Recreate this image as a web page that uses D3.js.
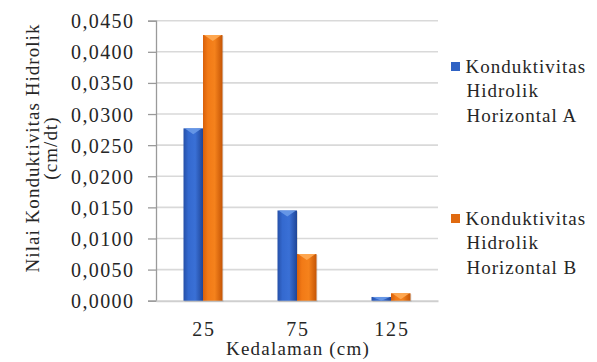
<!DOCTYPE html>
<html><head><meta charset="utf-8">
<script src="https://cdn.jsdelivr.net/npm/d3@7"></script>
<style>body{margin:0;background:#fff;}</style>
</head><body><svg id="c" width="597" height="362"></svg>
<script>
const categories = ["25", "75", "125"];
const seriesNames = ["Konduktivitas Hidrolik Horizontal A", "Konduktivitas Hidrolik Horizontal B"];
const seriesA = [0.0277, 0.0145, 0.0006];
const seriesB = [0.0427, 0.0075, 0.0012];
const yTicks = [0, 0.005, 0.010, 0.015, 0.020, 0.025, 0.030, 0.035, 0.040, 0.045];
const legendLines = [["Konduktivitas", "Hidrolik", "Horizontal A"], ["Konduktivitas", "Hidrolik", "Horizontal B"]];
const yTitle = ["Nilai Konduktivitas Hidrolik", "(cm/dt)"];
const xTitle = "Kedalaman (cm)";

const FF = "Liberation Serif";
const TC = "#262626";
const svg = d3.select("#c");
const L = 156, R = 438, T = 20.7, B = 300.7;
const FS = 19, FN = 20;
const x = d3.scaleBand().domain(categories).range([L, R]).paddingInner(0.585).paddingOuter(0.2925);
const xs = d3.scaleBand().domain([0, 1]).range([0, x.bandwidth()]);
const y = d3.scaleLinear().domain([0, 0.045]).range([B, T]);

const defs = svg.append("defs");
function grad(id, stops) {
  const g = defs.append("linearGradient").attr("id", id).attr("x1", 0).attr("x2", 1).attr("y1", 0).attr("y2", 0);
  stops.forEach(s => g.append("stop").attr("offset", s[0]).attr("stop-color", s[1]));
}
grad("gA", [[0, "#2650a8"], [0.25, "#3469cf"], [0.6, "#3a70d6"], [1, "#1f4596"]]);
grad("gB", [[0, "#d8600a"], [0.25, "#f27a16"], [0.6, "#f5821c"], [1, "#c55506"]]);
const colors = ["url(#gA)", "url(#gB)"];
const tops = ["#6a9ae8", "#ffab55"];
const solid = ["#2f62c4", "#e06a10"];

function styleText(sel, size, ls) {
  return sel.attr("font-size", size).attr("font-family", FF).attr("fill", TC).attr("letter-spacing", ls);
}

// gridlines
svg.append("g").selectAll("line").data(yTicks.slice(1)).join("line")
  .attr("x1", L).attr("x2", R).attr("y1", d => y(d)).attr("y2", d => y(d))
  .attr("stroke", "#d9d9d9").attr("stroke-width", 1.6);

// y axis
const yAxis = svg.append("g").attr("transform", `translate(${L},0)`)
  .call(d3.axisLeft(y).tickValues(yTicks).tickSize(8).tickPadding(0).tickFormat(d => d3.format(".4f")(d).replace(".", ",")));
yAxis.select(".domain").attr("stroke", "#9a9a9a").attr("stroke-width", 1.3);
yAxis.selectAll(".tick line").attr("stroke", "#9a9a9a").attr("stroke-width", 1.3);
styleText(yAxis.selectAll(".tick text"), FN, 1.4).attr("x", -21.6).attr("dy", null).attr("y", 7).attr("text-anchor", "end");

// x axis
const xAxis = svg.append("g").attr("transform", `translate(0,${B})`)
  .call(d3.axisBottom(x).tickSize(0).tickPadding(0));
xAxis.select(".domain").attr("stroke", "#cfcfcf").attr("stroke-width", 2);
styleText(xAxis.selectAll(".tick text"), FN, 1.8).attr("dy", null).attr("y", 35.5).attr("x", 1);

// bars
const data = categories.map((c, i) => ({ c, v: [seriesA[i], seriesB[i]] }));
const gs = svg.append("g").selectAll("g").data(data).join("g").attr("transform", d => `translate(${x(d.c)},0)`);
gs.each(function (d) {
  const g = d3.select(this);
  d.v.forEach((v, k) => {
    const x0 = xs(k), w = xs.bandwidth(), y0 = y(v), h = B - y0;
    g.append("rect").attr("x", x0 + 1).attr("y", y0 + 1).attr("width", w).attr("height", h).attr("fill", "#000").attr("opacity", 0.12);
    g.append("rect").attr("x", x0).attr("y", y0).attr("width", w).attr("height", h).attr("fill", colors[k]);
    const th = Math.min(6, h);
    g.append("path").attr("d", `M${x0 + 1},${y0}L${x0 + w - 1},${y0}L${x0 + w / 2},${y0 + th}Z`).attr("fill", tops[k]).attr("opacity", 0.9);
  });
});

// y title
const yt = svg.append("g").attr("transform", "translate(38.5,148) rotate(-90)");
styleText(yt.append("text"), FS, 1.05).attr("text-anchor", "middle").text(yTitle[0]);
styleText(yt.append("text"), FS, 1.05).attr("text-anchor", "middle").attr("y", 18.5).text(yTitle[1]);

// x title
styleText(svg.append("text"), FS, 1.2).attr("text-anchor", "middle").attr("x", 298).attr("y", 355).text(xTitle);

// legend
const lg = svg.append("g").selectAll("g").data(legendLines).join("g")
  .attr("transform", (d, i) => `translate(451,${i === 0 ? 73 : 225})`);
lg.append("rect").attr("x", 0).attr("y", -11).attr("width", 9).attr("height", 9).attr("fill", (d, i) => solid[i]);
lg.each(function (d) {
  styleText(d3.select(this).selectAll("text").data(d).join("text"), FS, 1.0)
    .attr("x", (t, j) => j === 0 ? 14.5 : 15.5).attr("y", (t, j) => j * 24.4).text(t => t);
});
</script></body></html>
